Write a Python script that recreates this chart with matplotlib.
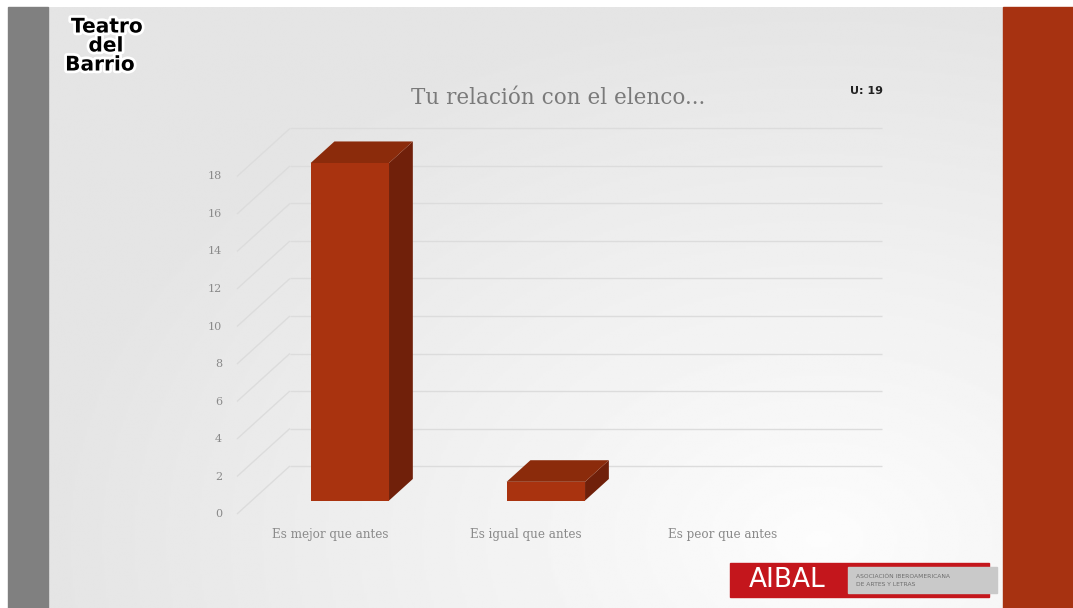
import numpy as np
import matplotlib
matplotlib.use("Agg")
import matplotlib.pyplot as plt
from matplotlib.patches import Polygon, Rectangle
import matplotlib.patheffects as pe

# ---- data ----
categories = ["Es mejor que antes", "Es igual que antes", "Es peor que antes"]
values = [18, 1, 0]
y_ticks = [0, 2, 4, 6, 8, 10, 12, 14, 16, 18]
title = "Tu relación con el elenco..."
sample_note = "U: 19"

# ---- styling ----
W, H = 1073, 608
FRONT = "#a9330f"
TOP = "#8b2b0b"
SIDE = "#70200a"
GRID = "#dcdcdc"
TXT = "#8a8a8a"

# oblique depth of the 3-D box, in data units (category units, value units)
DEPTH_X, DEPTH_Y = 0.27, 2.56
BAR_Z0, BAR_Z1 = 0.28, 0.73   # fraction of depth occupied by the bars
BAR_HALF = 0.2

fig = plt.figure(figsize=(W / 100, H / 100), dpi=100)

# ---- slide background (pixel coordinates) ----
bg = fig.add_axes([0, 0, 1, 1])
bg.set_xlim(0, W)
bg.set_ylim(H, 0)
bg.axis("off")
bg.add_patch(Rectangle((0, 0), W, H, color="white", zorder=0))

# soft radial gradient across the slide
gx, gy = np.meshgrid(np.linspace(48, 1003, 400), np.linspace(7, 608, 260))
r = np.sqrt(((gx - 820) / 780) ** 2 + ((gy - 540) / 540) ** 2)
r = np.clip(r, 0, 1)
shade = 0.99 - 0.095 * r
bg.imshow(shade, extent=(48, 1003, 608, 7), cmap="gray", vmin=0, vmax=1,
          aspect="auto", zorder=1, interpolation="bilinear")
bg.add_patch(Rectangle((8, 7), 40, H - 7, color="#808080", zorder=2))
bg.add_patch(Rectangle((1003, 7), W - 1003, H - 7, color="#a73211", zorder=2))

# theatre logo
for txt, (lx, ly) in zip(["Teatro", "del", "Barrio"],
                         [(107, 27), (106, 46), (100, 65)]):
    bg.text(lx, ly, txt, fontsize=14.5, fontweight="bold", color="black",
            ha="center", va="center", family="DejaVu Sans",
            path_effects=[pe.withStroke(linewidth=4, foreground="white")],
            zorder=5)

# AIBAL logo
bg.add_patch(Rectangle((730, 563), 259, 34, color="#c4161c", zorder=5))
bg.add_patch(Rectangle((848, 567), 149, 26, color="#c9c9c9", zorder=6))
bg.text(787, 580, "AIBAL", fontsize=19, color="white",
        ha="center", va="center", family="DejaVu Sans", zorder=7)
bg.text(856, 576, "ASOCIACIÓN IBEROAMERICANA", fontsize=4.3, color="#6d6d6d",
        ha="left", va="center", family="DejaVu Sans", zorder=7)
bg.text(856, 584, "DE ARTES Y LETRAS", fontsize=4.3, color="#6d6d6d",
        ha="left", va="center", family="DejaVu Sans", zorder=7)

# ---- chart axes (category units x, value units y) ----
ax = fig.add_axes([0, 0, 1, 1])
ax.set_xlim(-1.709, 3.765)
ax.set_ylim(-5.013, 27.413)
ax.patch.set_alpha(0)
ax.axis("off")

n = len(categories)
x_left, x_right = -0.5, n - 0.5 + 0.02

# back-wall gridlines and side-wall diagonals
for t in y_ticks:
    ax.plot([x_left + DEPTH_X, x_right + DEPTH_X], [t + DEPTH_Y, t + DEPTH_Y],
            color=GRID, lw=1.0, zorder=2, solid_capstyle="butt")
    ax.plot([x_left, x_left + DEPTH_X], [t, t + DEPTH_Y],
            color=GRID, lw=1.0, zorder=2, solid_capstyle="butt")
    ax.text(x_left - 0.075, t, str(t), ha="right", va="center",
            fontsize=8, color=TXT, family="DejaVu Serif", zorder=3)

# 3-D bars
for i, v in enumerate(values):
    if v <= 0:
        continue
    fx0 = i - BAR_HALF + BAR_Z0 * DEPTH_X
    fx1 = i + BAR_HALF + BAR_Z0 * DEPTH_X
    fy0 = BAR_Z0 * DEPTH_Y
    fy1 = v + BAR_Z0 * DEPTH_Y
    dx = (BAR_Z1 - BAR_Z0) * DEPTH_X
    dy = (BAR_Z1 - BAR_Z0) * DEPTH_Y
    ax.add_patch(Polygon([(fx1, fy0), (fx1 + dx, fy0 + dy),
                          (fx1 + dx, fy1 + dy), (fx1, fy1)],
                         closed=True, fc=SIDE, ec="none", zorder=4))
    ax.add_patch(Polygon([(fx0, fy1), (fx1, fy1), (fx1 + dx, fy1 + dy),
                          (fx0 + dx, fy1 + dy)],
                         closed=True, fc=TOP, ec="none", zorder=4))
    ax.add_patch(Rectangle((fx0, fy0), fx1 - fx0, fy1 - fy0,
                           fc=FRONT, ec="none", zorder=5))

# category labels
for i, c in enumerate(categories):
    ax.text(i - 0.025, -1.07, c, ha="center", va="center", fontsize=8.6,
            color=TXT, family="DejaVu Serif", zorder=3)

# title and sample size
bg.text(558, 98, title, ha="center", va="center", fontsize=15.5,
        color="#7a7a7a", family="DejaVu Serif", zorder=5)
bg.text(866, 91, sample_note, ha="center", va="center", fontsize=8,
        fontweight="bold", color="#222222", family="DejaVu Sans", zorder=5)

fig.savefig("out.png", dpi=100)
